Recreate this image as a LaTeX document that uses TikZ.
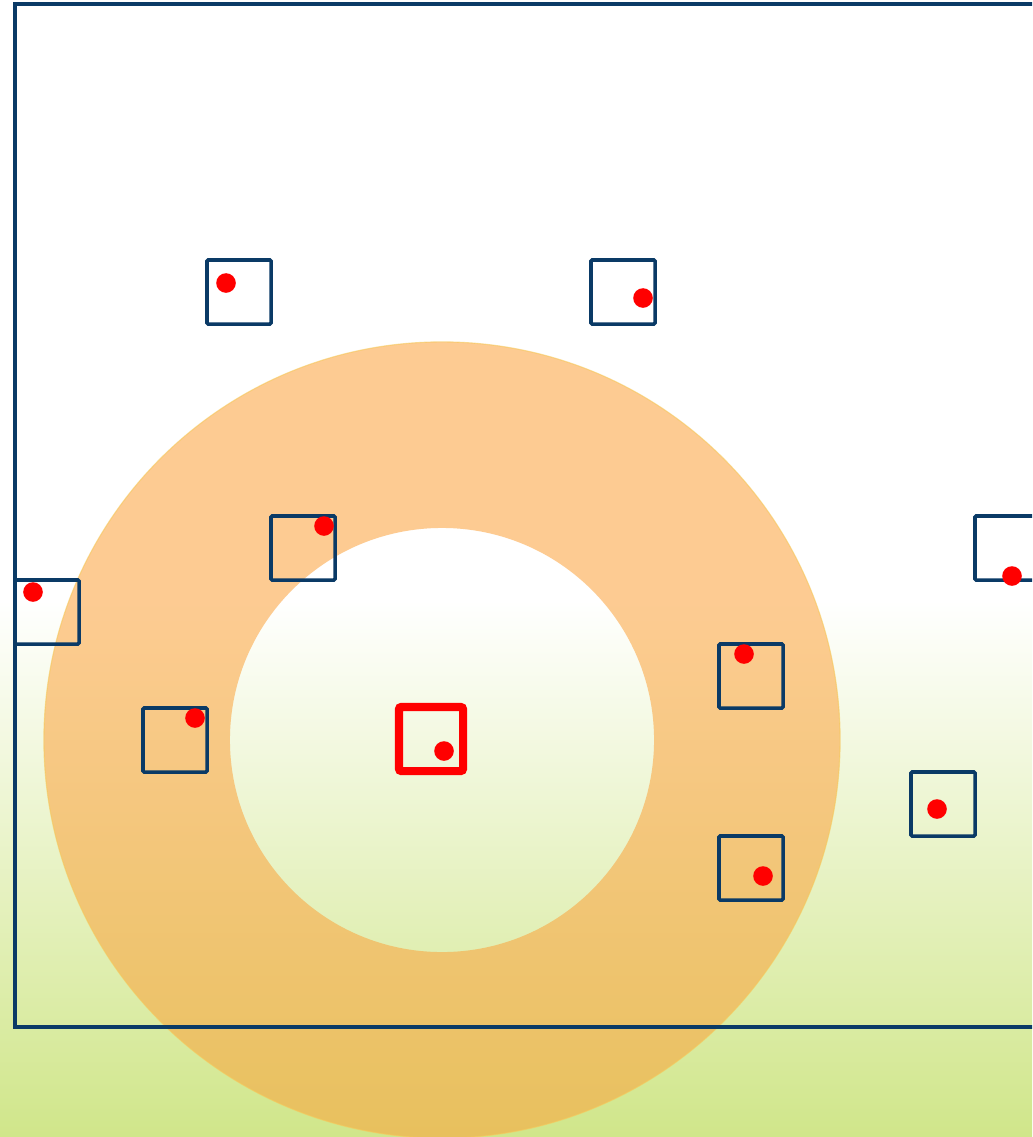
\documentclass[tikz,border=0pt]{standalone}
\usepackage{xcolor}
\usepackage{tikz}
\usetikzlibrary{positioning,calc}

\definecolor{navy}{RGB}{10,58,102}
\definecolor{ringorange}{RGB}{252,162,58}
\definecolor{ringedge}{RGB}{246,200,90}
\definecolor{lowgreen}{RGB}{208,230,138}

\begin{document}
\begin{tikzpicture}[
  x=0.025cm, y=-0.025cm,
  cell/.style={draw=navy,line width=2.5pt,rounded corners=0.8pt,minimum size=1.6cm,inner sep=0pt},
  target/.style={draw=red,line width=5.7pt,rounded corners=1.5pt,minimum size=1.6cm,inner sep=0pt},
  dot/.style={circle,fill=red,minimum size=0.49cm,inner sep=0pt}
]
\useasboundingbox (0,0) rectangle (1032,1137);
\clip (0,0) rectangle (1032,1137);
% Background: white above, green fade below
\fill[white] (0,0) rectangle (1032,601);
\shade[top color=white,bottom color=lowgreen] (0,600) rectangle (1032,1137);
% Ring round the target
\fill[ringorange,opacity=0.55,even odd rule] (442,740) circle[radius=9.95cm] (442,740) circle[radius=5.3cm];
\draw[ringedge,opacity=0.6,line width=0.8pt] (442,740) circle[radius=9.95cm];
% Outer frame
\draw[navy,line width=2.5pt] (1060,4) -- (15,4) -- (15,1027) -- (1060,1027);
% Cells
\node[cell] (c1) at (239,292) {};
\node[cell] (c2) at (623,292) {};
\node[cell] (c3) at (303,548) {};
\node[cell] (c4) at (47,612) {};
\node[cell] (c5) at (175,740) {};
\node[cell] (c6) at (751,676) {};
\node[cell] (c7) at (751,868) {};
\node[cell] (c8) at (943,804) {};
\node[cell] (c9) at (1007,548) {};
% Target cell
\node[target] (t) at (431,739) {};
% Points
\node[dot] (p1) at (226,283) {};
\node[dot] (p2) at (643,298) {};
\node[dot] (p3) at (324,526) {};
\node[dot] (p4) at (33,592) {};
\node[dot] (p5) at (195,718) {};
\node[dot] (p6) at (744,654) {};
\node[dot] (p7) at (763,876) {};
\node[dot] (p8) at (937,809) {};
\node[dot] (p9) at (1012,576) {};
\node[dot] (pt) at (444,751) {};
\end{tikzpicture}
\end{document}
